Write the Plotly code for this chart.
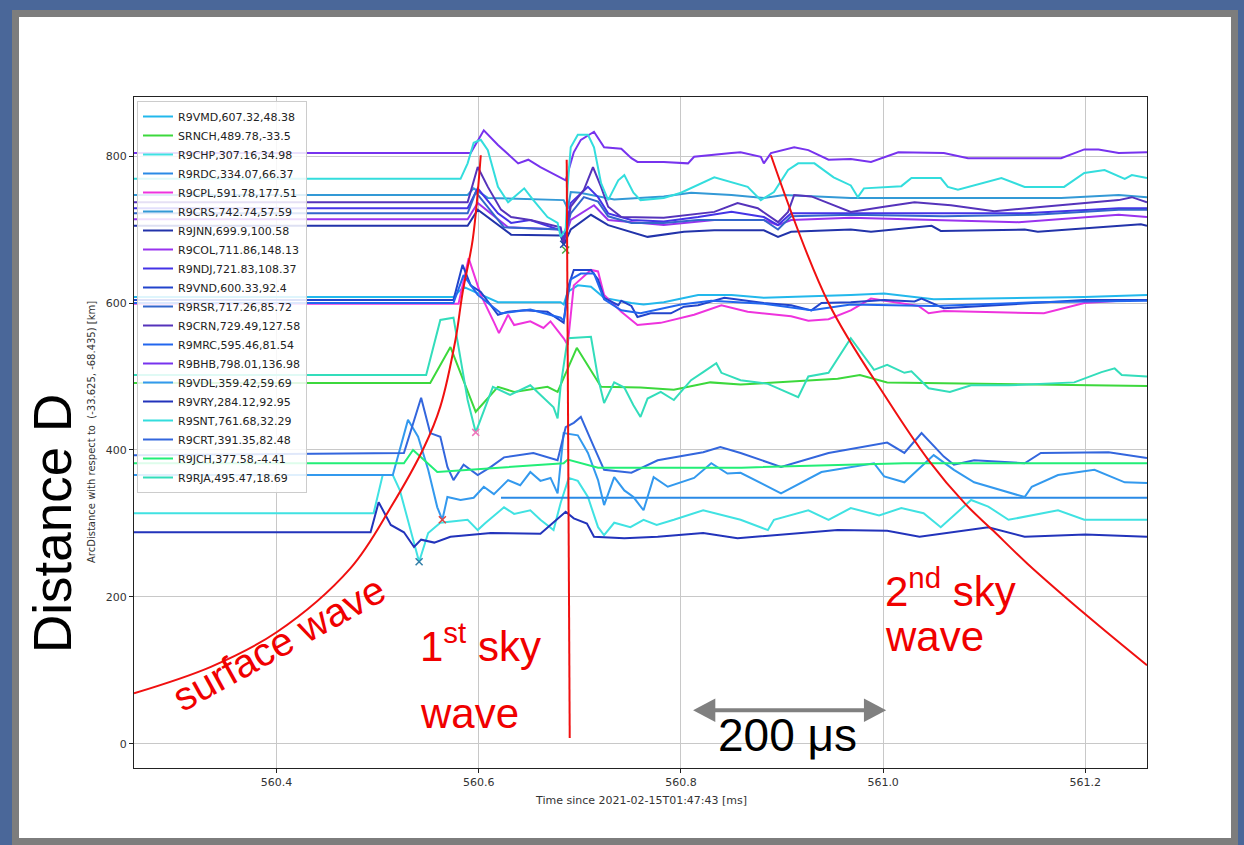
import plotly.graph_objects as go

# ---------------- data ----------------
NAMES = ["R9VMD,607.32,48.38", "SRNCH,489.78,-33.5", "R9CHP,307.16,34.98", "R9RDC,334.07,66.37",
         "R9CPL,591.78,177.51", "R9CRS,742.74,57.59", "R9JNN,699.9,100.58", "R9COL,711.86,148.13",
         "R9NDJ,721.83,108.37", "R9VND,600.33,92.4", "R9RSR,717.26,85.72", "R9CRN,729.49,127.58",
         "R9MRC,595.46,81.54", "R9BHB,798.01,136.98", "R9VDL,359.42,59.69", "R9VRY,284.12,92.95",
         "R9SNT,761.68,32.29", "R9CRT,391.35,82.48", "R9JCH,377.58,-4.41", "R9RJA,495.47,18.69"]
COLORS = ["#22b8ec", "#3cd83c", "#40e2e2", "#2a8ae6", "#ee33dd", "#3399d6", "#2233aa", "#9933ee",
          "#4433e6", "#2244cc", "#3366cc", "#5533bb", "#2266ee", "#7733ee", "#3399ee", "#2233bb",
          "#33dddd", "#3366dd", "#22ee77", "#33ddbb"]

T_VMD = [560.259, 560.575, 560.585, 560.602, 560.619, 560.681, 560.684, 560.688, 560.698, 560.711, 560.724, 560.751, 560.763, 560.783, 560.817, 560.850, 560.882, 560.968, 561.001, 561.050, 561.199, 561.261]
D_VMD = [608, 608, 622, 611, 601, 601, 598, 615, 624, 622, 607, 600, 598, 601, 611, 611, 607, 611, 613, 605, 608, 611]

T_SRNCH = [560.259, 560.552, 560.572, 560.597, 560.619, 560.635, 560.668, 560.678, 560.697, 560.721, 560.760, 560.793, 560.829, 560.859, 560.955, 560.977, 561.004, 561.100, 561.261]
D_SRNCH = [491, 491, 540, 452, 486, 479, 486, 479, 539, 486, 485, 482, 492, 489, 497, 502, 492, 490, 487]

T_CHP = [560.259, 560.496, 560.505, 560.515, 560.522, 560.541, 560.550, 560.562, 560.589, 560.599, 560.606, 560.625, 560.635, 560.651, 560.661, 560.674, 560.681, 560.689, 560.698, 560.708, 560.718, 560.724, 560.734, 560.750, 560.763, 560.776, 560.793, 560.822, 560.859, 560.886, 560.892, 560.926, 560.946, 560.968, 560.996, 561.018, 561.040, 561.057, 561.087, 561.104, 561.124, 561.173, 561.199, 561.261]
D_CHP = [314, 314, 366, 366, 345, 248, 287, 301, 305, 291, 300, 322, 313, 318, 305, 291, 328, 362, 358, 336, 295, 284, 301, 295, 305, 298, 305, 318, 305, 291, 305, 318, 305, 321, 311, 321, 314, 295, 332, 323, 305, 318, 305, 305]

T_RDC = [560.622, 561.261]
D_RDC = [335, 335]

T_CPL = [560.259, 560.580, 560.590, 560.602, 560.615, 560.620, 560.629, 560.635, 560.651, 560.664, 560.671, 560.684, 560.688, 560.694, 560.711, 560.718, 560.724, 560.741, 560.757, 560.780, 560.813, 560.840, 560.866, 560.896, 560.909, 560.926, 560.946, 560.968, 560.988, 561.035, 561.045, 561.060, 561.159, 561.199, 561.246, 561.261]
D_CPL = [599, 599, 661, 611, 574, 559, 584, 570, 575, 566, 575, 552, 543, 624, 645, 643, 611, 588, 570, 573, 584, 597, 588, 584, 582, 576, 578, 590, 606, 596, 586, 589, 586, 600, 604, 604]

T_CRS = [560.259, 560.589, 560.595, 560.609, 560.684, 560.688, 560.691, 560.700, 560.734, 560.783, 560.810, 560.850, 560.882, 560.902, 560.968, 561.176, 561.233, 561.261]
D_CRS = [747, 747, 756, 743, 740, 728, 751, 750, 741, 745, 750, 747, 743, 747, 743, 743, 747, 744]

T_JNN = [560.259, 560.589, 560.599, 560.632, 560.681, 560.684, 560.691, 560.711, 560.728, 560.751, 560.767, 560.803, 560.833, 560.882, 560.896, 560.909, 560.968, 560.988, 561.048, 561.057, 561.140, 561.153, 561.255, 561.261]
D_JNN = [705, 705, 727, 693, 692, 679, 700, 720, 706, 697, 690, 697, 699, 699, 690, 697, 700, 697, 705, 698, 700, 697, 707, 705]

T_COL = [560.259, 560.589, 560.599, 560.629, 560.681, 560.684, 560.691, 560.714, 560.728, 560.751, 560.783, 560.833, 560.882, 560.896, 560.909, 560.968, 561.050, 561.134, 561.233, 561.261]
D_COL = [714, 714, 736, 703, 700, 684, 713, 733, 713, 710, 706, 713, 713, 706, 713, 716, 713, 710, 720, 717]

T_NDJ = [560.259, 560.589, 560.599, 560.619, 560.632, 560.651, 560.681, 560.684, 560.691, 560.708, 560.718, 560.728, 560.751, 560.783, 560.817, 560.850, 560.882, 560.896, 560.909, 560.968, 561.060, 561.140, 561.233, 561.261]
D_NDJ = [729, 729, 756, 722, 709, 713, 699, 686, 736, 758, 744, 722, 713, 711, 717, 724, 717, 706, 722, 722, 722, 722, 729, 729]

T_VND = [560.259, 560.575, 560.584, 560.592, 560.602, 560.619, 560.629, 560.645, 560.668, 560.681, 560.684, 560.688, 560.694, 560.711, 560.718, 560.724, 560.738, 560.741, 560.751, 560.757, 560.770, 560.790, 560.803, 560.817, 560.843, 560.882, 560.909, 560.929, 560.939, 560.968, 561.001, 561.031, 561.038, 561.060, 561.110, 561.199, 561.261]
D_VND = [604, 604, 652, 624, 615, 584, 588, 590, 588, 575, 573, 620, 645, 645, 632, 607, 597, 603, 596, 581, 586, 586, 595, 597, 607, 600, 597, 590, 600, 601, 604, 602, 606, 593, 597, 604, 604]

T_RSR = [560.259, 560.589, 560.597, 560.625, 560.681, 560.684, 560.691, 560.704, 560.718, 560.728, 560.751, 560.783, 560.817, 560.882, 560.896, 560.909, 560.968, 561.060, 561.150, 561.233, 561.261]
D_RSR = [722, 722, 751, 703, 700, 684, 722, 744, 738, 718, 709, 709, 713, 713, 700, 718, 720, 718, 720, 727, 727]

T_CRN = [560.259, 560.589, 560.599, 560.609, 560.622, 560.632, 560.651, 560.681, 560.684, 560.691, 560.704, 560.713, 560.721, 560.728, 560.741, 560.783, 560.833, 560.856, 560.876, 560.896, 560.906, 560.912, 560.929, 560.951, 560.968, 561.001, 561.031, 561.067, 561.110, 561.150, 561.233, 561.246, 561.261]
D_CRN = [737, 737, 785, 758, 727, 717, 713, 703, 682, 731, 754, 785, 758, 731, 717, 716, 724, 736, 729, 710, 724, 747, 745, 733, 724, 731, 737, 733, 725, 730, 740, 744, 737]

T_MRC = [560.259, 560.575, 560.585, 560.599, 560.622, 560.651, 560.681, 560.684, 560.691, 560.701, 560.714, 560.724, 560.741, 560.760, 560.800, 560.830, 560.882, 560.929, 560.968, 561.050, 561.150, 561.261]
D_MRC = [600, 600, 638, 611, 586, 591, 580, 576, 632, 640, 640, 605, 590, 586, 598, 603, 599, 590, 598, 596, 601, 603]

T_BHB = [560.259, 560.592, 560.605, 560.619, 560.639, 560.649, 560.661, 560.681, 560.686, 560.694, 560.701, 560.714, 560.724, 560.741, 560.751, 560.757, 560.783, 560.807, 560.813, 560.850, 560.859, 560.879, 560.882, 560.889, 560.902, 560.912, 560.926, 560.946, 560.968, 560.988, 561.015, 561.060, 561.084, 561.176, 561.199, 561.213, 561.233, 561.261]
D_BHB = [804, 804, 835, 815, 790, 795, 785, 771, 767, 805, 822, 833, 812, 810, 797, 792, 792, 790, 799, 804, 805, 799, 790, 804, 808, 812, 808, 795, 796, 792, 805, 804, 797, 797, 809, 809, 804, 805]

T_VDL = [560.259, 560.515, 560.530, 560.540, 560.550, 560.559, 560.564, 560.569, 560.582, 560.595, 560.605, 560.615, 560.629, 560.641, 560.651, 560.661, 560.671, 560.678, 560.684, 560.698, 560.708, 560.718, 560.724, 560.734, 560.744, 560.753, 560.763, 560.773, 560.787, 560.800, 560.813, 560.830, 560.846, 560.859, 560.899, 560.939, 560.991, 561.001, 561.021, 561.050, 561.070, 561.090, 561.140, 561.147, 561.173, 561.209, 561.239, 561.261]
D_VDL = [366, 366, 441, 418, 373, 322, 305, 336, 332, 335, 350, 340, 359, 352, 370, 358, 362, 341, 423, 420, 396, 359, 325, 363, 345, 336, 318, 363, 350, 356, 362, 382, 368, 369, 341, 370, 382, 364, 356, 393, 373, 356, 336, 350, 366, 373, 356, 355]

T_VRY = [560.259, 560.493, 560.501, 560.513, 560.526, 560.536, 560.543, 560.556, 560.572, 560.612, 560.661, 560.686, 560.694, 560.707, 560.714, 560.744, 560.777, 560.822, 560.856, 560.955, 561.004, 561.036, 561.104, 561.140, 561.200, 561.261]
D_VRY = [288, 288, 329, 298, 288, 268, 278, 274, 282, 287, 286, 316, 307, 300, 282, 280, 282, 287, 280, 291, 290, 282, 295, 282, 285, 282]

T_SNT = [560.259, 560.582, 560.589, 560.595, 560.602, 560.609, 560.619, 560.629, 560.645, 560.654, 560.668, 560.678, 560.681, 560.686, 560.688, 560.691, 560.698, 560.708, 560.714, 560.721, 560.728, 560.738, 560.744, 560.753, 560.760, 560.783, 560.800, 560.813, 560.833, 560.866, 560.879, 560.892, 560.906, 560.916, 560.932, 560.951, 560.968, 560.975, 560.981, 561.018, 561.028, 561.057, 561.064, 561.074, 561.117, 561.140, 561.179, 561.199, 561.219, 561.239, 561.246, 561.261]
D_SNT = [769, 769, 790, 818, 822, 808, 758, 737, 756, 740, 717, 709, 690, 700, 760, 812, 829, 829, 812, 763, 740, 767, 774, 750, 740, 743, 750, 758, 771, 758, 740, 751, 781, 790, 790, 771, 760, 744, 756, 759, 770, 770, 758, 754, 770, 758, 758, 777, 781, 769, 774, 770]

T_CRT = [560.259, 560.526, 560.543, 560.552, 560.562, 560.569, 560.575, 560.585, 560.599, 560.612, 560.625, 560.654, 560.678, 560.686, 560.694, 560.701, 560.714, 560.724, 560.751, 560.777, 560.822, 560.839, 560.859, 560.899, 560.946, 561.004, 561.021, 561.038, 561.060, 561.070, 561.090, 561.140, 561.156, 561.223, 561.261]
D_CRT = [393, 396, 471, 423, 418, 377, 359, 380, 366, 377, 390, 396, 386, 431, 437, 445, 404, 373, 369, 386, 397, 404, 396, 377, 396, 410, 396, 423, 391, 380, 386, 382, 396, 397, 389]

T_JCH = [560.259, 560.526, 560.535, 560.559, 560.684, 560.688, 560.718, 560.860, 561.021, 561.261]
D_JCH = [382, 382, 400, 370, 382, 387, 376, 376, 382, 382]

T_RJA = [560.259, 560.548, 560.562, 560.575, 560.589, 560.597, 560.614, 560.631, 560.651, 560.674, 560.678, 560.681, 560.688, 560.711, 560.718, 560.724, 560.734, 560.744, 560.753, 560.760, 560.767, 560.780, 560.793, 560.810, 560.822, 560.835, 560.840, 560.859, 560.886, 560.916, 560.926, 560.946, 560.968, 560.991, 561.004, 561.021, 561.028, 561.045, 561.066, 561.087, 561.124, 561.189, 561.216, 561.229, 561.236, 561.261]
D_RJA = [502, 502, 577, 580, 468, 424, 486, 475, 488, 458, 443, 487, 552, 554, 498, 464, 492, 485, 461, 445, 470, 479, 468, 495, 506, 518, 505, 495, 490, 472, 500, 505, 552, 509, 516, 505, 507, 484, 479, 488, 488, 492, 506, 511, 502, 500]

SERIES_T = [T_VMD, T_SRNCH, T_CHP, T_RDC, T_CPL, T_CRS, T_JNN, T_COL, T_NDJ, T_VND,
            T_RSR, T_CRN, T_MRC, T_BHB, T_VDL, T_VRY, T_SNT, T_CRT, T_JCH, T_RJA]
SERIES_D = [D_VMD, D_SRNCH, D_CHP, D_RDC, D_CPL, D_CRS, D_JNN, D_COL, D_NDJ, D_VND,
            D_RSR, D_CRN, D_MRC, D_BHB, D_VDL, D_VRY, D_SNT, D_CRT, D_JCH, D_RJA]

# 'x' markers at the picked minima
MARK_T = [560.597, 560.564, 560.541, 560.686, 560.684]
MARK_D = [424, 305, 248, 672, 680]
MARK_C = ["#ee77bb", "#dd4444", "#337fa8", "#44aa44", "#2244aa"]

# hand-drawn red wave-front curves
SURF_T = [560.259, 560.335, 560.400, 560.473, 560.513, 560.546, 560.562, 560.577, 560.584, 560.594, 560.602]
SURF_D = [69, 105, 152, 239, 322, 404, 459, 550, 614, 686, 801]
SKY1_T = [560.687, 560.690]
SKY1_D = [795, 8]
SKY2_T = [560.889, 560.946, 561.004, 561.045, 561.081, 561.109, 561.143, 561.203, 561.261]
SKY2_D = [801, 600, 469, 386, 327, 290, 245, 173, 107]

X_RANGE = [560.259, 561.261]
Y_RANGE = [-32.7, 880.3]
X_TICKS = [560.4, 560.6, 560.8, 561.0, 561.2]
Y_TICKS = [0, 200, 400, 600, 800]

# ---------------- layout geometry ----------------
W, H = 1244, 845
L, R, T, B = 134, 1147, 97, 768


def px(x):
    return (x - L) / (R - L)


def py(y):
    return (B - y) / (B - T)


fig = go.Figure()
for name, col, tt, dd in zip(NAMES, COLORS, SERIES_T, SERIES_D):
    fig.add_trace(go.Scatter(x=tt, y=dd, mode="lines", name=name,
                             line=dict(color=col, width=2)))

fig.add_trace(go.Scatter(x=MARK_T, y=MARK_D, mode="markers", showlegend=False,
                         marker=dict(symbol="x-thin", size=7, line=dict(width=1.5, color=MARK_C))))

for tt, dd in [(SURF_T, SURF_D), (SKY1_T, SKY1_D), (SKY2_T, SKY2_D)]:
    fig.add_trace(go.Scatter(x=tt, y=dd, mode="lines", showlegend=False,
                             line=dict(color="#f01010", width=2, shape="spline", smoothing=1.0)))

axis_common = dict(showgrid=True, gridcolor="#c8c8c8", gridwidth=1, zeroline=False,
                   showline=True, linecolor="#222", linewidth=1, mirror=True,
                   ticks="outside", ticklen=4, tickcolor="#222",
                   tickfont=dict(family="DejaVu Sans", size=11, color="#333"))

fig.update_xaxes(range=X_RANGE, tickvals=X_TICKS, ticktext=[f"{v:.1f}" for v in X_TICKS], **axis_common)
fig.update_yaxes(range=Y_RANGE, tickvals=Y_TICKS, **axis_common)

shapes = [
    dict(type="rect", xref="paper", yref="paper", layer="below",
         x0=px(12), x1=px(1238), y0=py(845), y1=py(10), fillcolor="#7d7d7d", line=dict(width=0)),
    dict(type="rect", xref="paper", yref="paper", layer="below",
         x0=px(19), x1=px(1231), y0=py(838), y1=py(17), fillcolor="white", line=dict(width=0)),
    # 200 us double arrow
    dict(type="line", xref="x", yref="y", x0=560.830, x1=560.985, y0=46, y1=46,
         line=dict(color="#808080", width=4)),
    dict(type="path", xref="x", yref="y", path="M 560.812 46 L 560.834 62 L 560.834 30 Z",
         fillcolor="#808080", line=dict(width=0)),
    dict(type="path", xref="x", yref="y", path="M 561.003 46 L 560.981 62 L 560.981 30 Z",
         fillcolor="#808080", line=dict(width=0)),
]

ARIAL = "Liberation Sans, Arial, sans-serif"
annots = [
    dict(text="Distance D", x=px(52), y=py(524), textangle=-90,
         font=dict(family=ARIAL, size=53, color="black")),
    dict(text="ArcDistance with respect to  (-33.625, -68.435) [km]", x=px(91), y=py(432), textangle=-90,
         font=dict(family="DejaVu Sans", size=10, color="#333")),
    dict(text="Time since 2021-02-15T01:47:43 [ms]", x=px(641), y=py(800),
         font=dict(family="DejaVu Sans", size=11, color="#333")),
    dict(text="surface wave", x=px(279), y=py(643), textangle=-29,
         font=dict(family=ARIAL, size=40, color="#f00000")),
    dict(text="1<sup>st</sup> sky", x=px(418), y=py(643), xanchor="left",
         font=dict(family=ARIAL, size=42, color="#f00000")),
    dict(text="wave", x=px(418), y=py(713), xanchor="left",
         font=dict(family=ARIAL, size=42, color="#f00000")),
    dict(text="2<sup>nd</sup> sky", x=px(883), y=py(588), xanchor="left",
         font=dict(family=ARIAL, size=42, color="#f00000")),
    dict(text="wave", x=px(883), y=py(636), xanchor="left",
         font=dict(family=ARIAL, size=42, color="#f00000")),
    dict(text="200 μs", x=px(787), y=py(735),
         font=dict(family=ARIAL, size=46, color="black")),
]
for a in annots:
    a.setdefault("xanchor", "center")
    a.update(xref="paper", yref="paper", yanchor="middle", showarrow=False)

fig.update_layout(
    width=W, height=H,
    margin=dict(l=L, r=W - R, t=T, b=H - B, pad=0),
    paper_bgcolor="#4a6799", plot_bgcolor="white",
    shapes=shapes, annotations=annots,
    showlegend=True,
    legend=dict(x=px(137), y=py(101), xanchor="left", yanchor="top",
                bgcolor="rgba(255,255,255,0.85)", bordercolor="#cccccc", borderwidth=1,
                font=dict(family="DejaVu Sans", size=11, color="#222"),
                itemwidth=30, tracegroupgap=0),
)

fig.write_html("out.html")
